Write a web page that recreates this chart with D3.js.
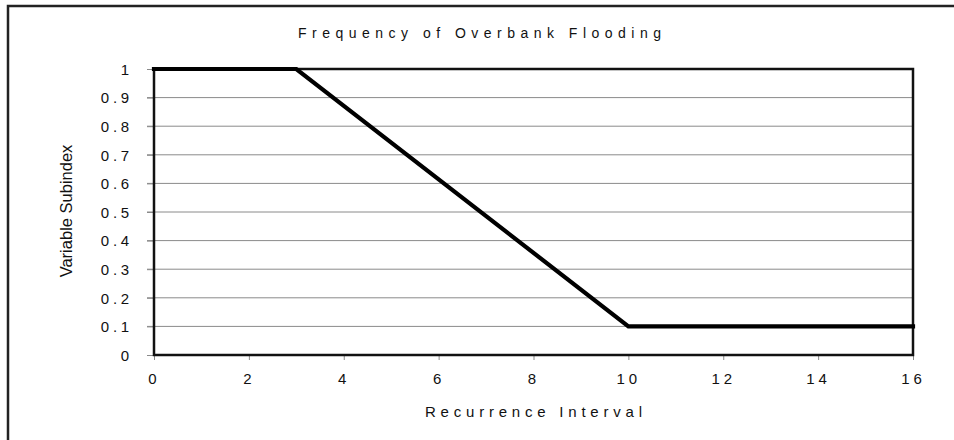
<!DOCTYPE html>
<html><head><meta charset="utf-8">
<script src="https://cdn.jsdelivr.net/npm/d3@7"></script>
<style>
html,body{margin:0;padding:0;background:#fff;}
text{font-family:"Liberation Sans",Arial,sans-serif;fill:#111;}
</style></head>
<body>
<svg id="chart" width="954" height="440"></svg>
<script>
const titleText = "Frequency of Overbank Flooding";
const xTitle = "Recurrence Interval";
const yTitle = "Variable Subindex";
const xValues = [0, 3, 10, 16];
const yValues = [1, 1, 0.1, 0.1];
const xTicks = [0, 2, 4, 6, 8, 10, 12, 14, 16];
const yTicks = [0, 0.1, 0.2, 0.3, 0.4, 0.5, 0.6, 0.7, 0.8, 0.9, 1];

const svg = d3.select("#chart");
const m = {left:154, right:913, top:69, bottom:355};

// outer frame
svg.append("rect").attr("x",8).attr("y",6).attr("width",970).attr("height",470)
  .attr("fill","none").attr("stroke","#222").attr("stroke-width",2.5);

const x = d3.scaleLinear().domain([0,16]).range([m.left,m.right]);
const y = d3.scaleLinear().domain([0,1]).range([m.bottom,m.top]);

// gridlines
svg.append("g").selectAll("line").data(yTicks.filter(d=>d>0 && d<1)).join("line")
  .attr("x1",m.left-7).attr("x2",m.right).attr("y1",d=>y(d)).attr("y2",d=>y(d))
  .attr("stroke","#8a8a8a").attr("stroke-width",1);

// y axis
const yAxis = svg.append("g").attr("transform",`translate(${m.left},0)`)
  .call(d3.axisLeft(y).tickValues(yTicks).tickFormat(d=>d===0?"0":d===1?"1":d3.format(".1f")(d)).tickSize(7).tickPadding(13));
yAxis.select(".domain").remove();
yAxis.selectAll("line").attr("stroke","#8a8a8a");
yAxis.selectAll("text").attr("font-size",15).style("letter-spacing","3.8px")
  .attr("fill","#111").attr("dy","0.35em").attr("x",-21);

// x axis
const xAxis = svg.append("g").attr("transform",`translate(0,${m.bottom})`)
  .call(d3.axisBottom(x).tickValues(xTicks).tickFormat(d3.format("d")).tickSize(5).tickPadding(12));
xAxis.select(".domain").remove();
xAxis.selectAll("line").attr("stroke","#8a8a8a");
xAxis.selectAll("text").attr("font-size",15).style("letter-spacing","4px").attr("fill","#111").attr("dy","0.71em").attr("y",18);

// plot border
svg.append("rect").attr("x",m.left).attr("y",m.top).attr("width",m.right-m.left).attr("height",m.bottom-m.top)
  .attr("fill","none").attr("stroke","#111").attr("stroke-width",2.5);

// data line
const line = d3.line().x((d,i)=>x(xValues[i])).y((d,i)=>y(yValues[i]));
svg.append("path").datum(xValues).attr("d",line).attr("fill","none")
  .attr("stroke","#000").attr("stroke-width",4.2).attr("stroke-linecap","square").attr("stroke-linejoin","miter");

// title
function spaced(txt, x0, x1, yb, size){
  svg.append("text").attr("x",x0).attr("y",yb).attr("font-size",size)
    .attr("textLength",x1-x0).attr("lengthAdjust","spacing").text(txt);
}
spaced(titleText, 298, 661, 38, 14);
spaced(xTitle, 425, 642, 417, 15);

svg.append("text").attr("transform","translate(72,211) rotate(-90)")
  .attr("text-anchor","middle").attr("font-size",16.5).text(yTitle);
</script>
</body></html>
